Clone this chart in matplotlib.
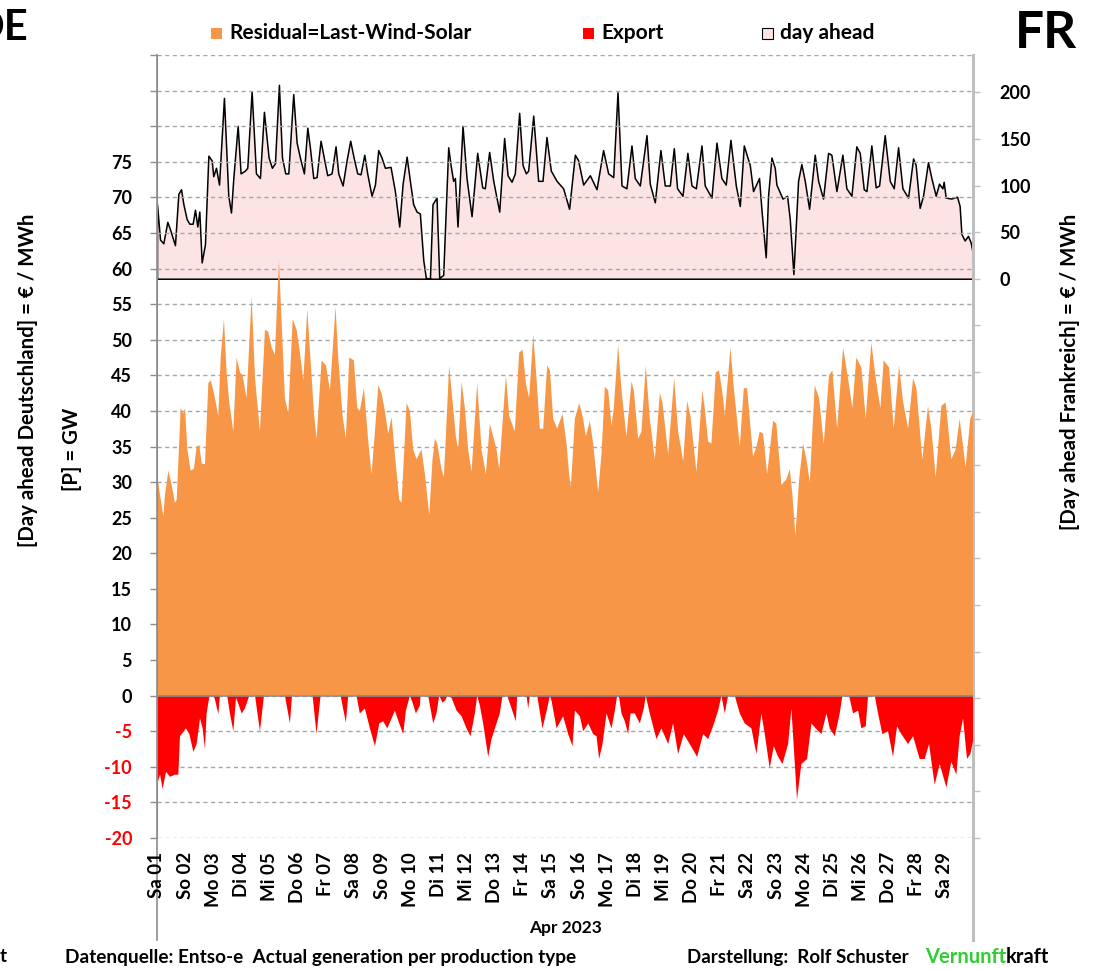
import matplotlib
matplotlib.use('Agg')
import matplotlib.pyplot as plt
from matplotlib.patches import Rectangle
from matplotlib.lines import Line2D
import numpy as np

plt.rcParams['font.family'] = ['Lato', 'DejaVu Sans']
plt.rcParams['font.weight'] = 'bold'

# ---------------------------------------------------------------------------
# Data (hours since 01.04.2023 00:00)
# ---------------------------------------------------------------------------

res_hours = [0, 2.6, 5.4, 6.8, 9.7, 12.5, 15.3, 16.8, 20.2, 22.5, 23.9, 25.9, 28.7, 31.5, 33.8,
             36.1, 38.1, 40.9, 43.8, 45.8, 48.6, 52.3, 54.3, 57.1, 59.4, 61.7, 65.1, 67.9, 70.8,
             73, 76.4, 80.7, 83.6, 87.8, 92.1, 94.9, 97.8, 100.6, 104, 106.3, 109.1, 112, 115.7,
             119.1, 121.9, 124.8, 128.2, 131, 133.9, 136.1, 140.4, 144.1, 147.5, 152.3, 154.6,
             158.3, 161.1, 164, 167.9, 170.8, 173, 176.5, 180.2, 183, 185.9, 188.7, 191.5, 194.4,
             197.2, 200.1, 202.9, 206.6, 208.6, 212.9, 215.7, 218.5, 221.4, 225.6, 228.5, 232.2,
             235, 237, 239, 242.7, 244.7, 249.2, 252.6, 254.9, 256.9, 259.8, 262.6, 265.4, 268.3,
             273.1, 276.8, 280.5, 283.9, 286.8, 289.6, 291.9, 297.6, 300.4, 305.2, 308.9, 311.8,
             314.6, 317.4, 320.9, 323.7, 326.5, 329.4, 332.8, 335.1, 337.9, 341.3, 345.9, 349.3,
             351.5, 353, 356.4, 360.1, 363.5, 365.8, 369.2, 372, 376.3, 379.1, 382, 384.8, 387.7,
             389.6, 393.3, 396.2, 400.4, 404.7, 406.7, 410.4, 413.2, 416.9, 420.3, 424.6, 428.9,
             431.1, 436, 441.1, 444.5, 448.8, 452.2, 455, 460.1, 465.2, 467.2, 470.1, 472.9,
             476.6, 479.4, 482.9, 484.3, 489.1, 492, 497.1, 500.5, 503.3, 508.4, 511.3, 514.1,
             517, 520.4, 525.5, 528.3, 532.6, 536.9, 539.7, 542, 544.5, 547.7, 551.1, 553.9,
             556.8, 561, 564.7, 568.7, 573.2, 576.1, 580.1, 585.2, 589.4, 593.1, 596.5, 600.8,
             604.5, 609.3, 613, 617, 619.8, 624.4, 628.4, 632.9, 636.3, 640.6, 644.9, 647.7,
             652.8, 657.6, 660.5, 664.2, 669, 672.7, 677.5, 681.2, 684.6, 689.7, 693.7, 696]
res_values = [31.1, 28.2, 25.2, 28.2, 31.6, 29.6, 27.1, 27.5, 40.4, 39.6, 40.4, 34.6, 31.6, 31.9, 35,
              35.2, 32.6, 32.5, 43.9, 44.3, 42.5, 39.3, 47.5, 52.9, 45.4, 41.1, 37.1, 47.5, 45.4,
              45, 41.8, 56.1, 44.6, 37.1, 51.4, 51.1, 48.9, 47.9, 61.2, 52.5, 41.8, 39.6, 52.9,
              51.4, 48.2, 44.3, 54.3, 47.1, 39.6, 36.1, 47.1, 46.4, 42.9, 54.6, 47.5,
              39.3, 36.1, 47.5, 47.1, 40.4, 40, 43.2, 35.7, 31.1, 37.1, 43.6, 42.5, 40,
              36.8, 39.1, 33.9, 27.5, 27.1, 41.1, 40, 34.6, 33.2, 34.6, 31.1, 25.4,
              33.2, 36.1, 35.4, 31.8, 30.7, 46.4, 40.4, 36.4, 34.6, 44.1, 40.4, 34.6, 31.4,
              43.9, 34.6, 31.1, 38.2, 36.4, 34.6, 31.8, 45, 39.3, 37.1, 48.2, 48.6,
              43.9, 41.8, 50.7, 44.6, 37.5, 37.5, 46.4, 45.7, 38.9, 37.5, 39.6, 35.4,
              31.1, 29.3, 38.9, 41.1, 38.9, 36.4, 38.6, 35.4, 28.6, 33.9, 43.4, 42.9, 37.9,
              40.4, 49.3, 42.9, 36.4, 44.1, 42.9, 36.1, 37.1, 46.4, 38.9, 33.2, 42.5,
              41.2, 33.9, 44.6, 37.1, 32.9, 41.4, 39.3, 31.4, 42.9, 40.4, 35.7, 35.4,
              45.4, 45.7, 41.8, 39.3, 48.9, 43.2, 35, 43.2, 43.2, 33.6, 35, 37.1,
              36.8, 31.1, 38.6, 38.2, 29.6, 30.4, 31.8, 28.2, 22.5, 30.4, 35.4, 33.2,
              30, 43.6, 41.8, 35.4, 45, 45.7, 37.5, 48.9, 44.6, 40.4, 47.5, 46.1,
              38.9, 49.6, 44.6, 40.4, 47.1, 46.1, 37.5, 46.4, 41.4, 37.5, 44.6, 43.2,
              33.2, 40.7, 37.5, 30.7, 40.7, 41.2, 33.2, 34.6, 38.9, 32.1, 38.9, 39.8]

exp_hours = [0, 2.6, 4.8, 7.7, 11.1, 15.3, 18.2, 19.6, 24.7, 27.6, 31, 33.8, 36.7, 38.9, 40.9,
             42.3, 44.6, 48, 49.4, 52.3, 53.7, 59.9, 62.2, 65.1, 67.4, 69.3, 72.2, 75, 78.7,
             83.6, 87.8, 91.2, 109.1, 113.4, 115.1, 132.7, 136.1, 139.5, 156.6, 161.1, 163.1,
             170.2, 173, 177.3, 181.6, 185.9, 189.6, 193, 196.4, 200.1, 202.9, 206.6, 210,
             212.3, 215.7, 218, 220.8, 224.2, 224.8, 231.3, 235.6, 238.4, 240.7, 243.6, 245.6,
             247.8, 251.2, 255.5, 259.8, 264, 267.4, 271.1, 273.1, 275.4, 278.2, 282.5, 285.3,
             289.6, 292.4, 294.7, 298.7, 302.4, 306.1, 307.2, 315.2, 316.6, 318, 324.3, 328.8,
             332.8, 335.1, 336.5, 340.8, 346.4, 350.7, 354.4, 356.4, 360.7, 363.5, 367.8, 372,
             374.9, 377.1, 380, 383.4, 387.7, 390.5, 392.5, 394.2, 396.2, 399, 401.9, 403.9,
             407.5, 411.8, 415.2, 416.9, 420.3, 426, 430.3, 436, 440.2, 444.5, 449.3, 454.4,
             460.7, 465.8, 470.1, 474.3, 478.6, 481.4, 484.3, 487.1, 492.8, 497.1, 501.3, 507,
             511.3, 515.5, 518.4, 522.6, 526.1, 529.8, 533.5, 538.3, 541.1, 545.9, 549.6, 554.5,
             558.2, 561.9, 566.7, 571, 573.8, 578.1, 582.3, 584.6, 590.3, 593.7, 598, 600.8,
             604.5, 606.5, 612.2, 615, 618.7, 623.5, 627.8, 631.2, 634.9, 640.6, 644.9, 650.5,
             654.8, 658.5, 663.3, 667.6, 673.3, 677.5, 681.8, 684.6, 687.5, 690.9, 693.7, 696]
exp_values = [-12.5, -11.1, -13.1, -10.7, -11.4, -11.1, -11.1, -5.7, -4.6, -5.4, -7.9, -6.8, -3.2, -4.6, -7.5,
              -2.5, -0.2, 0, -0.5, -2.6, 0, 0, -2.5, -5, -0.3, -1.1, -2.5, -1.8, 0,
              0, -5, 0, 0, -3.9, 0, 0, -5.4, 0, 0, -3.8, 0,
              0, -2.5, -1.8, -4.6, -7.1, -3.9, -3.6, -4.6, -3.2, -2.1, -3.9, -5.4,
              -2.1, 0, -1, -2.5, -1.4, 0, 0, -3.9, -2.5, 0, -1, -0.7,
              0, -0.3, -2.1, -2.9, -4.6, -5.7, -2.5, 0, -1.4, -3.9, -8.6, -6.1,
              -3.9, -2.5, 0, 0, -1.8, -3.6, 0, 0, -1.8, 0, 0, -4.6,
              -1.8, 0, -0.7, -4.6, -2.9, -5.4, -7.1, -2.1, -2.9, -5, -3.9, -5.4,
              -5.7, -8.9, -6.8, -2.5, -4.6, -2.1, 0, -0.3, -2.5, -3.6, -5.4, -2.5,
              -2.5, -3.9, -1.8, 0, -2.5, -6.1, -4.6, -6.8, -3.9, -8.2, -5.4, -6.8,
              -8.6, -5.4, -6.1, -4.3, -2.1, 0, -2.5, 0, 0, -2.5, -3.9, -4.6,
              -8.2, -2.5, -5.4, -10.2, -7.1, -8.6, -9.6, -6.8, -1.8, -14.6, -9.6, -8.9,
              -3.9, -4.6, -5.4, -2.5, -4.6, -5.7, -2.5, 0, 0, -2.5, -2.1, -4.6,
              -4.3, 0, 0, -2.5, -5.4, -5, -8.6, -4.3, -5.4, -6.8, -5.7, -8.9,
              -8.9, -6.8, -12.5, -9.6, -12.9, -9.3, -11.1, -5.7, -3.2, -8.9, -8.2, -6.4]

price_hours = [0, 2.6, 5.4, 8.8, 11.1, 15.3, 18.2, 20.5, 22.5, 25.3, 27.6, 30.4, 32.4, 34.4, 36.1,
               38.1, 40.9, 43.8, 46.6, 48, 50.3, 52.9, 57.1, 60.8, 63.1, 65.1, 68.8, 71.3, 75,
               77, 80.7, 84.4, 87.8, 91.2, 95.2, 98, 100.6, 104, 106.6, 109.4, 112, 116.2, 119.1,
               121.9, 125.3, 128.2, 130.4, 133.3, 136.1, 139.5, 142.7, 145.2, 148.9, 152.3, 154.6,
               158.3, 161.7, 164.8, 167.7, 170.8, 173.6, 176.8, 179.3, 183, 185.9, 188.7, 191.5,
               194.4, 199.2, 202.9, 206.6, 209.5, 212.9, 215.7, 218.5, 221.4, 224.2, 227.1, 229.3,
               232.8, 235, 238.4, 240.7, 244.1, 248.4, 250.4, 252.6, 254.1, 256.3, 260.6, 264,
               268.3, 273.1, 277.4, 279.6, 283.3, 286.8, 291.9, 296.1, 299, 302.4, 305.2, 308.9,
               311.8, 314.6, 316.6, 320.9, 325.1, 328.8, 332.2, 335.9, 340.8, 346.4, 351.5, 356.4,
               359.2, 363.5, 369.2, 374.9, 380.5, 384.8, 389.1, 392.8, 396.2, 400.4, 404.7, 407.5,
               411.8, 417.5, 420.3, 424.6, 429.4, 433.1, 437.4, 440.8, 443.6, 448.2, 452.4, 455.9,
               459.6, 464.4, 467.2, 472.9, 477.2, 481.4, 485.1, 489.1, 493.7, 497.1, 500.5, 505.6,
               508.4, 513.5, 515.5, 519.2, 521.2, 524.1, 526.9, 528.3, 533.5, 537.4, 539.7, 542.8,
               546.8, 549.6, 552.5, 556.2, 561, 563.9, 568.1, 572.4, 575.2, 579.5, 584.6, 588,
               592.3, 596.5, 599.4, 602.8, 605.1, 609.3, 613, 615.9, 620.7, 625, 628.4, 632.1,
               635.8, 640.6, 644.9, 647.1, 650.5, 653.4, 657.6, 660.5, 664.2, 667, 669.9, 671,
               672.7, 677.5, 682.4, 684.6, 686.1, 688.9, 691.7, 694, 696]
price_values = [80, 42, 38, 61, 53, 36, 91, 96, 80, 64, 59, 59, 74, 56, 72,
                17.5, 37, 132, 127, 110, 119, 101, 194, 89, 71, 108, 164, 113, 116,
                119, 201, 113, 108, 179, 130, 119, 124, 208, 130, 113, 113, 198, 146,
                130, 113, 162, 141, 108, 109, 148, 127, 111, 113, 142, 113,
                100, 127, 148, 130, 113, 112, 133, 113, 89, 101, 138, 130,
                119, 120, 94, 56, 102, 131, 105, 80, 72, 70, 20, 1,
                0, 80, 87, 1, 4, 141, 122, 105, 108, 56, 164, 108,
                67, 135, 98, 97, 136, 105, 72, 151, 111, 104, 113, 178,
                122, 113, 116, 175, 105, 105, 152, 116, 105, 97, 75, 133,
                127, 101, 111, 96, 138, 113, 109, 200, 100, 97, 143, 108,
                100, 154, 102, 82, 138, 100, 100, 140, 97, 89, 135, 100,
                97, 143, 100, 87, 146, 108, 101, 149, 100, 78, 143, 122,
                94, 108, 75, 23, 89, 130, 119, 101, 86, 89, 64, 5,
                105, 123, 105, 75, 133, 105, 86, 135, 133, 94, 133, 97,
                89, 142, 135, 96, 94, 143, 98, 100, 154, 105, 97, 141,
                97, 87, 129, 122, 76, 89, 125, 108, 89, 102, 97, 104,
                87, 86, 88, 78, 48, 41, 46, 39, 26]

day_labels = ['Sa 01', 'So 02', 'Mo 03', 'Di 04', 'Mi 05', 'Do 06', 'Fr 07', 'Sa 08', 'So 09',
              'Mo 10', 'Di 11', 'Mi 12', 'Do 13', 'Fr 14', 'Sa 15', 'So 16', 'Mo 17', 'Di 18',
              'Mi 19', 'Do 20', 'Fr 21', 'Sa 22', 'So 23', 'Mo 24', 'Di 25', 'Mi 26', 'Do 27',
              'Fr 28', 'Sa 29']

# ---------------------------------------------------------------------------
# Figure
# ---------------------------------------------------------------------------

W, H = 1101, 969
fig = plt.figure(figsize=(W / 100, H / 100), dpi=100)


def fx(px):
    return px / W


def fy(py):
    return 1 - py / H


ORANGE = '#F79646'
RED = '#FF0000'
PINK = '#FDE4E4'
GRID = '#A6A6A6'

ax = fig.add_axes([fx(157), fy(838), fx(973) - fx(157), fy(55) - fy(838)])
ax2 = ax.twinx()
# GW areas sit on top of the price area, price axis underneath
ax.set_zorder(2)
ax2.set_zorder(1)
ax.patch.set_visible(False)

ax.set_xlim(0, 696)
ax.set_ylim(-20, 90)
ax.set_axisbelow(True)

ax.fill_between(res_hours, 0, res_values, facecolor=ORANGE, edgecolor='none', zorder=2)
ax.fill_between(exp_hours, 0, exp_values, facecolor=RED, edgecolor='none', zorder=2)
ax.axhline(0, color='#8C8C8C', lw=1.2, zorder=3)

yt = np.arange(-20, 91, 5)
ax.set_yticks(yt)
ax.set_yticklabels([str(v) if v <= 75 else '' for v in yt])
for lab, v in zip(ax.get_yticklabels(), yt):
    lab.set_color(RED if v < 0 else 'black')
ax.tick_params(axis='y', direction='out', length=5, width=1, color='#8C8C8C',
               labelsize=13, pad=13)
ax.yaxis.grid(True, color=GRID, ls=(0, (3, 2.5)), lw=1)

ax.set_xticks(np.arange(len(day_labels)) * 24)
ax.set_xticklabels(day_labels, rotation=90, fontsize=13.5)
ax.tick_params(axis='x', length=0, pad=10)

for s in ['top', 'bottom', 'right']:
    ax.spines[s].set_visible(False)
ax.spines['left'].set_color('#8C8C8C')

# day-ahead price on the right axis
ax2.set_ylim(-600, 240)
ax2.fill_between(price_hours, 0, price_values, facecolor=PINK, edgecolor='black', lw=1.1, zorder=2)
yt2 = np.arange(-600, 201, 50)
ax2.set_yticks(yt2)
ax2.set_yticklabels([str(v) if v >= 0 else '' for v in yt2])
ax2.tick_params(axis='y', direction='out', length=5, width=1, color='#BFBFBF',
                labelsize=13, pad=14)
for s in ['top', 'bottom', 'left', 'right']:
    ax2.spines[s].set_visible(False)
ax.set_xlim(0, 696)

# plot-area side lines reaching down past the labels
fig.add_artist(Line2D([fx(157), fx(157)], [fy(55), fy(940)], color='#8C8C8C', lw=1.2))
fig.add_artist(Line2D([fx(973), fx(973)], [fy(55), fy(940)], color='#BFBFBF', lw=2.2))

# legend
leg = [(211, ORANGE, 'none', 'Residual=Last-Wind-Solar'),
       (583, RED, 'none', 'Export'),
       (762, PINK, 'black', 'day ahead')]
for x0, fc, ec, txt in leg:
    fig.add_artist(Rectangle((fx(x0), fy(39)), fx(11), 11 / H, facecolor=fc,
                             edgecolor=ec, lw=0.8, transform=fig.transFigure))
    fig.text(fx(x0 + 18), fy(33), txt, fontsize=15, va='center', ha='left')

fig.text(fx(28), fy(28), 'DE', fontsize=30, ha='right', va='center')
fig.text(fx(1046), fy(34), 'FR', fontsize=37, ha='center', va='center')

fig.text(fx(28), fy(380), '[Day ahead Deutschland] = € / MWh', rotation=90,
         fontsize=14.7, ha='center', va='center')
fig.text(fx(72), fy(449), '[P] = GW', rotation=90, fontsize=14.7, ha='center', va='center')
fig.text(fx(1070), fy(372), '[Day ahead Frankreich] = € / MWh', rotation=90,
         fontsize=14.7, ha='center', va='center')

fig.text(fx(566), fy(928), 'Apr 2023', fontsize=12.5, ha='center', va='center')

fig.text(fx(0), fy(957), 't', fontsize=13.5, ha='left', va='center')
fig.text(fx(65), fy(957), 'Datenquelle: Entso-e  Actual generation per production type',
         fontsize=13.7, ha='left', va='center')
fig.text(fx(687), fy(957), 'Darstellung:  Rolf Schuster', fontsize=13.5, ha='left', va='center')
t1 = fig.text(fx(925), fy(957), 'Vernunft', fontsize=14.5, ha='left', va='center', color='#33CC33')
fig.canvas.draw()
bb = t1.get_window_extent()
fig.text(bb.x1 / W, fy(957), 'kraft', fontsize=14.5, ha='left', va='center')

fig.savefig('out.png', dpi=100)
